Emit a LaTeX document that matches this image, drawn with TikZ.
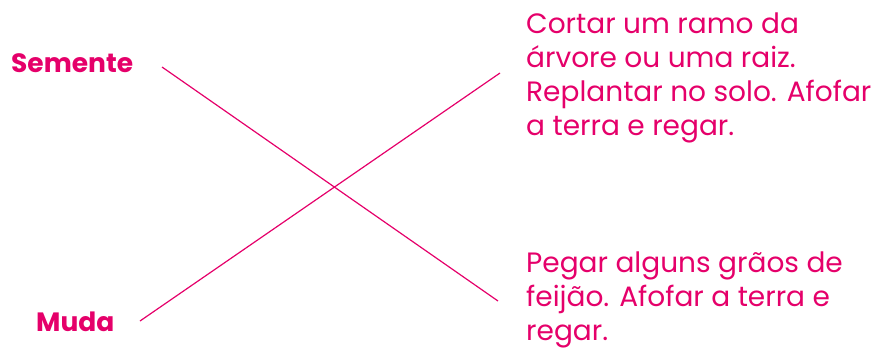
\documentclass[tikz,border=0pt]{standalone}
\usepackage{fontspec}
\setmainfont{Poppins}
\definecolor{pinkc}{HTML}{E5006A}
\begin{document}
\begin{tikzpicture}[x=1pt,y=-1pt,
  lbl/.style={inner sep=0pt,text=pinkc,font=\fontsize{26.5}{30}\selectfont\bfseries,anchor=base west},
  desc/.style={inner sep=0pt,text=pinkc,font=\fontsize{28}{34}\selectfont,align=left,anchor=base west},
  conn/.style={draw=pinkc,line width=1.2pt}]
\useasboundingbox (0,0) rectangle (882,354);
\node[lbl] (sem) at (11,72) {Semente};
\node[lbl] (muda) at (36,331) {Muda};
\node[desc] (t1) at (526,135) {Cortar um ramo da\\árvore ou uma raiz.\\Replantar no solo. Afofar\\a terra e regar.};
\node[desc] (t2) at (526,340) {Pegar alguns grãos de\\feijão. Afofar a terra e\\regar.};
\coordinate (s1) at (162,67);
\coordinate (s2) at (498,301);
\coordinate (m1) at (140,321);
\coordinate (m2) at (500,73);
\draw[conn] (s1) -- (s2);
\draw[conn] (m1) -- (m2);
\end{tikzpicture}
\end{document}
